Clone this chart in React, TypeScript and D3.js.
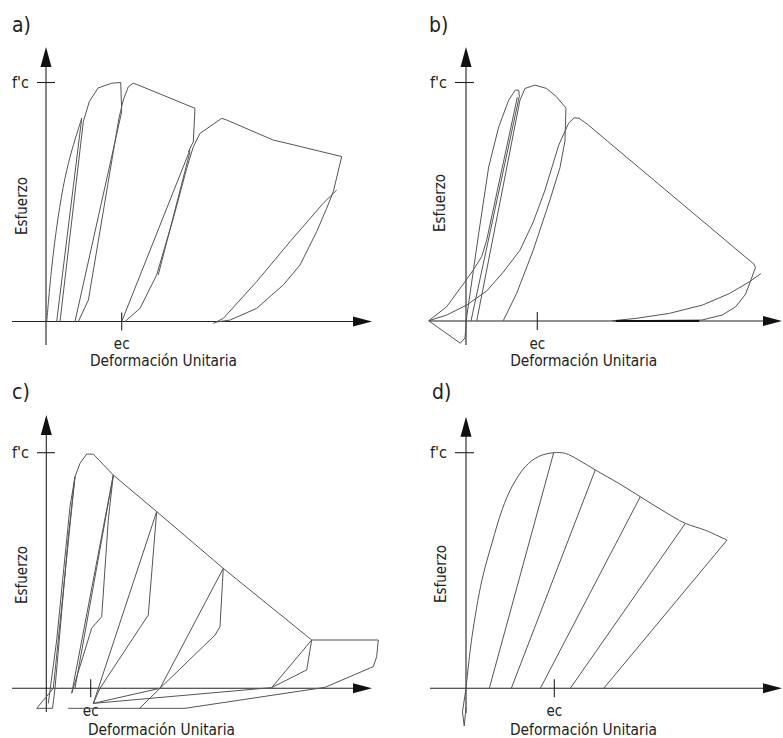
import * as d3 from 'd3';

type Pt = [number, number];

// strain in multiples of ec, stress as a fraction of f'c

// a) cyclic loading, unloading to zero stress
const aLoading1: Pt[] = [[0.01, 0], [0.075, 0.224], [0.159, 0.433], [0.251, 0.6], [0.343, 0.718], [0.423, 0.801], [0.472, 0.851]];
const aUnloading1: Pt[] = [[0.472, 0.851], [0.141, 0]];
const aReloading1: Pt[] = [[0.185, 0], [0.493, 0.836], [0.572, 0.92], [0.687, 0.977], [0.868, 0.997], [0.987, 1.0], [1.0, 0.878]];
const aUnloading2: Pt[] = [[1.0, 0.878], [0.383, 0]];
const aReloading2: Pt[] = [[0.427, 0], [0.56, 0.09], [0.964, 0.851], [1.021, 0.927], [1.087, 0.982], [1.152, 0.997], [1.198, 0.992], [1.968, 0.892], [1.946, 0.752], [1.88, 0.71]];
const aUnloading3: Pt[] = [[1.902, 0.718], [1.0, 0]];
const aReloading3: Pt[] = [[1.044, 0], [1.242, 0.055], [1.462, 0.195], [1.682, 0.432], [1.859, 0.641], [1.946, 0.731], [2.034, 0.787], [2.321, 0.85], [2.387, 0.843], [3.003, 0.759], [3.18, 0.746], [3.906, 0.69], [3.795, 0.543], [3.708, 0.474], [3.576, 0.376], [3.355, 0.236], [3.135, 0.153], [2.783, 0.055], [2.431, 0.006], [2.233, -0.003]];
const aInner3: Pt[] = [[1.483, 0.195], [1.902, 0.71]];
const aReloading4: Pt[] = [[2.21, -0.008], [2.342, 0.013], [2.783, 0.167], [3.223, 0.334], [3.663, 0.495], [3.84, 0.55]];

// b) cyclic loading into tension
const bLoading1: Pt[] = [[-0.523, 0.001], [-0.08, -0.093], [-0.014, -0.071], [0.01, 0.018], [0.178, 0.367], [0.318, 0.646], [0.459, 0.814], [0.599, 0.926], [0.691, 0.968], [0.739, 0.968], [0.748, 0.943]];
const bUnloading1: Pt[] = [[0.748, 0.943], [0.07, 0]];
const bReloading1: Pt[] = [[-0.523, 0.001], [-0.271, 0.06], [-0.014, 0.165], [0.102, 0.214], [0.22, 0.27], [0.29, 0.339], [0.72, 0.938]];
const bReloading2: Pt[] = [[0.15, 0], [0.757, 0.926]];
const bEnvelope2: Pt[] = [[0.757, 0.926], [0.827, 0.975], [0.967, 0.989], [1.13, 0.975], [1.27, 0.94], [1.388, 0.898], [1.402, 0.891], [1.388, 0.754], [1.318, 0.643], [1.177, 0.507], [0.943, 0.297], [0.709, 0.115], [0.522, 0.001]];
const bReloading3: Pt[] = [[-0.523, 0.001], [-0.271, 0.025], [0.01, 0.067], [0.29, 0.126], [0.523, 0.205], [0.757, 0.297], [0.943, 0.415], [1.108, 0.549], [1.3, 0.737], [1.44, 0.83], [1.515, 0.852], [1.585, 0.85], [1.703, 0.825], [1.984, 0.754], [4.04, 0.238], [4.06, 0.224], [3.99, 0.168], [3.92, 0.112], [3.78, 0.059], [3.592, 0.025], [3.311, 0.004], [2.049, 0.001]];
const bReloading4: Pt[] = [[4.137, 0.199], [3.973, 0.164], [3.693, 0.115], [3.319, 0.067], [2.852, 0.032], [2.384, 0.011], [2.057, 0.001]];
const bResidual: Pt[] = [[2.1, 0], [3.27, 0]];

// c) cycles with tension branch and residual plateau
const cEnvelope: Pt[] = [[0.045, -0.064], [0.234, 0.205], [0.383, 0.488], [0.534, 0.771], [0.646, 0.898], [0.759, 0.955], [0.91, 0.994], [1.059, 0.994], [1.509, 0.905], [2.486, 0.75], [3.986, 0.509], [5.977, 0.205], [7.477, 0.205], [7.441, 0.134], [7.365, 0.092], [6.277, 0.004], [3.124, -0.085], [0.493, -0.085]];
const cUnloading1: Pt[] = [[0.646, 0.898], [0.158, 0], [-0.216, -0.085]];
const cReloading1: Pt[] = [[-0.216, -0.085], [0.14, -0.085], [0.196, 0], [0.489, 0.63], [0.646, 0.898]];
const cUnloading2: Pt[] = [[1.509, 0.905], [0.572, -0.021]];
const cBranch2: Pt[] = [[1.509, 0.905], [1.396, 0.714], [1.248, 0.304], [1.022, 0.255], [0.572, -0.021]];
const cReloading2: Pt[] = [[0.646, 0], [1.509, 0.905]];
const cBranch3: Pt[] = [[2.486, 0.75], [2.297, 0.311], [1.209, 0], [1.059, -0.064]];
const cReloading3: Pt[] = [[1.059, -0.064], [2.486, 0.75]];
const cBranch4: Pt[] = [[3.986, 0.509], [3.912, 0.261], [3.8, 0.226], [2.561, 0], [2.101, -0.085]];
const cReloading4: Pt[] = [[1.059, -0.064], [2.561, 0], [3.986, 0.509]];
const cBranch5: Pt[] = [[5.977, 0.205], [5.865, 0.078], [5.077, 0.003]];
const cReloading5: Pt[] = [[1.059, -0.064], [5.077, 0.003], [5.977, 0.205]];

// d) envelope with linear unloading
const dEnvelope: Pt[] = [[0, 0], [0.068, 0.219], [0.181, 0.46], [0.294, 0.616], [0.408, 0.757], [0.521, 0.856], [0.672, 0.941], [0.823, 0.984], [0.993, 1.0], [1.125, 0.997], [1.276, 0.969], [1.464, 0.927], [1.729, 0.87], [1.974, 0.813], [2.22, 0.756], [2.484, 0.7], [2.71, 0.671], [2.956, 0.629]];
const dUnloading: Pt[][] = [
  [[0.993, 1.0], [0.264, 0]],
  [[1.464, 0.927], [0.513, 0]],
  [[1.974, 0.813], [0.842, 0]],
  [[2.484, 0.7], [1.181, 0]],
  [[2.956, 0.629], [1.56, 0]],
];
const dOriginMark: Pt[] = [[0, 0], [-0.04, -0.1], [-0.02, -0.16], [0.0, -0.08]];

const panelLabels = ['a)', 'b)', 'c)', 'd)'];
const yTitle = 'Esfuerzo';
const xTitle = 'Deformación Unitaria';
const peakLabel = "f'c";
const strainLabel = 'ec';

type Panel = {
  title: string;
  ox: number; oy: number; ecX: number; fcY: number;
  xFrom: number; xTo: number; yTop: number; yBottom: number;
  titleX: number; titleY: number; fcLabelX: number; tickFrom: number; tickTo: number;
  ecLabelY: number; xTitleX: number; xTitleY: number; yTitleX: number; yTitleY: number;
  lines: Pt[][]; smooth: Pt[][]; heavy: Pt[][];
};

const panels: Panel[] = [
  {
    title: panelLabels[0], ox: 46, oy: 321.5, ecX: 121.7, fcY: 82.5,
    xFrom: 12, xTo: 372, yTop: 47, yBottom: 345,
    titleX: 12, titleY: 32, fcLabelX: 12, tickFrom: 37, tickTo: 55,
    ecLabelY: 349, xTitleX: 163.5, xTitleY: 366, yTitleX: 22, yTitleY: 206,
    lines: [aUnloading1, aReloading1, aUnloading2, aReloading2, aUnloading3, aReloading3, aInner3, aReloading4],
    smooth: [aLoading1],
    heavy: [],
  },
  {
    title: panelLabels[1], ox: 466, oy: 321, ecX: 537.3, fcY: 82.5,
    xFrom: 429, xTo: 782, yTop: 47, yBottom: 345,
    titleX: 429, titleY: 32, fcLabelX: 430, tickFrom: 455, tickTo: 474,
    ecLabelY: 349, xTitleX: 583.7, xTitleY: 366, yTitleX: 440, yTitleY: 203,
    lines: [bLoading1, bUnloading1, bReloading1, bReloading2, bEnvelope2, bReloading3, bReloading4],
    smooth: [],
    heavy: [bResidual],
  },
  {
    title: panelLabels[2], ox: 46.3, oy: 688.3, ecX: 90.7, fcY: 452.7,
    xFrom: 12, xTo: 372, yTop: 415, yBottom: 712,
    titleX: 12, titleY: 399, fcLabelX: 12, tickFrom: 37, tickTo: 55,
    ecLabelY: 716, xTitleX: 161.5, xTitleY: 735, yTitleX: 22, yTitleY: 575,
    lines: [cEnvelope, cUnloading1, cReloading1, cUnloading2, cBranch2, cReloading2, cBranch3, cReloading3, cBranch4, cReloading4, cBranch5, cReloading5],
    smooth: [],
    heavy: [],
  },
  {
    title: panelLabels[3], ox: 466, oy: 688.3, ecX: 554.3, fcY: 452.7,
    xFrom: 430, xTo: 782, yTop: 416.7, yBottom: 713,
    titleX: 432, titleY: 399, fcLabelX: 430, tickFrom: 455, tickTo: 474,
    ecLabelY: 716, xTitleX: 583.5, xTitleY: 735, yTitleX: 441, yTitleY: 574,
    lines: [...dUnloading, dOriginMark],
    smooth: [dEnvelope],
    heavy: [],
  },
];

const font = "'Liberation Sans Narrow', 'DejaVu Sans Condensed', 'Liberation Sans', Arial, sans-serif";
const ink = '#222';
const curveInk = '#555';

function StressStrainPanel({ p }: { p: Panel }) {
  const x = d3.scaleLinear().domain([0, 1]).range([p.ox, p.ecX]);
  const y = d3.scaleLinear().domain([0, 1]).range([p.oy, p.fcY]);
  const line = d3.line<Pt>().x((d) => x(d[0])).y((d) => y(d[1]));
  const smoothLine = d3.line<Pt>().x((d) => x(d[0])).y((d) => y(d[1])).curve(d3.curveCatmullRom);

  const yArrow = `${p.ox},${p.yTop} ${p.ox - 5.5},${p.yTop + 20} ${p.ox + 5.5},${p.yTop + 20}`;
  const xArrow = `${p.xTo},${p.oy} ${p.xTo - 19},${p.oy - 5} ${p.xTo - 19},${p.oy + 5}`;

  return (
    <g>
      <text x={p.titleX} y={p.titleY} fontSize={21} fontFamily={font} fill={ink}>{p.title}</text>

      {/* axes */}
      <line x1={p.xFrom} y1={p.oy} x2={p.xTo - 10} y2={p.oy} stroke={ink} strokeWidth={1.1} />
      <line x1={p.ox} y1={p.yBottom} x2={p.ox} y2={p.yTop + 10} stroke={ink} strokeWidth={1.1} />
      <polygon points={yArrow} fill="#111" />
      <polygon points={xArrow} fill="#111" />

      {/* f'c and ec markers */}
      <line x1={p.tickFrom} y1={y(1)} x2={p.tickTo} y2={y(1)} stroke={ink} strokeWidth={1.1} />
      <text x={p.fcLabelX} y={y(1)} dy="0.35em" fontSize={15} fontFamily={font} fill={ink} textLength={17} lengthAdjust="spacingAndGlyphs">{peakLabel}</text>
      <line x1={x(1)} y1={p.oy - 9} x2={x(1)} y2={p.oy + 9} stroke={ink} strokeWidth={1.1} />
      <text x={x(1)} y={p.ecLabelY} textAnchor="middle" fontSize={15} fontFamily={font} fill={ink}>{strainLabel}</text>

      <text x={p.xTitleX} y={p.xTitleY} textAnchor="middle" fontSize={15} fontFamily={font} fill={ink} textLength={147} lengthAdjust="spacingAndGlyphs">{xTitle}</text>
      <text
        transform={`translate(${p.yTitleX},${p.yTitleY}) rotate(-90)`}
        textAnchor="middle"
        dy="0.35em"
        fontSize={15}
        fontFamily={font}
        fill={ink}
        textLength={58}
        lengthAdjust="spacingAndGlyphs"
      >
        {yTitle}
      </text>

      {/* curves */}
      {p.smooth.map((pts, i) => (
        <path key={`s${i}`} d={smoothLine(pts) ?? ''} fill="none" stroke={curveInk} strokeWidth={1} />
      ))}
      {p.lines.map((pts, i) => (
        <path key={i} d={line(pts) ?? ''} fill="none" stroke={curveInk} strokeWidth={1} strokeLinejoin="round" />
      ))}
      {p.heavy.map((pts, i) => (
        <path key={`h${i}`} d={line(pts) ?? ''} fill="none" stroke="#111" strokeWidth={1.8} />
      ))}
    </g>
  );
}

export default function App() {
  return (
    <svg
      width={783}
      height={738}
      viewBox="0 0 783 738"
      style={{ position: 'absolute', left: 0, top: 0, background: '#fff' }}
      role="img"
      aria-label="Curvas esfuerzo-deformación bajo carga cíclica"
    >
      <rect width={783} height={738} fill="#fff" />
      {panels.map((p) => (
        <StressStrainPanel key={p.title} p={p} />
      ))}
    </svg>
  );
}
